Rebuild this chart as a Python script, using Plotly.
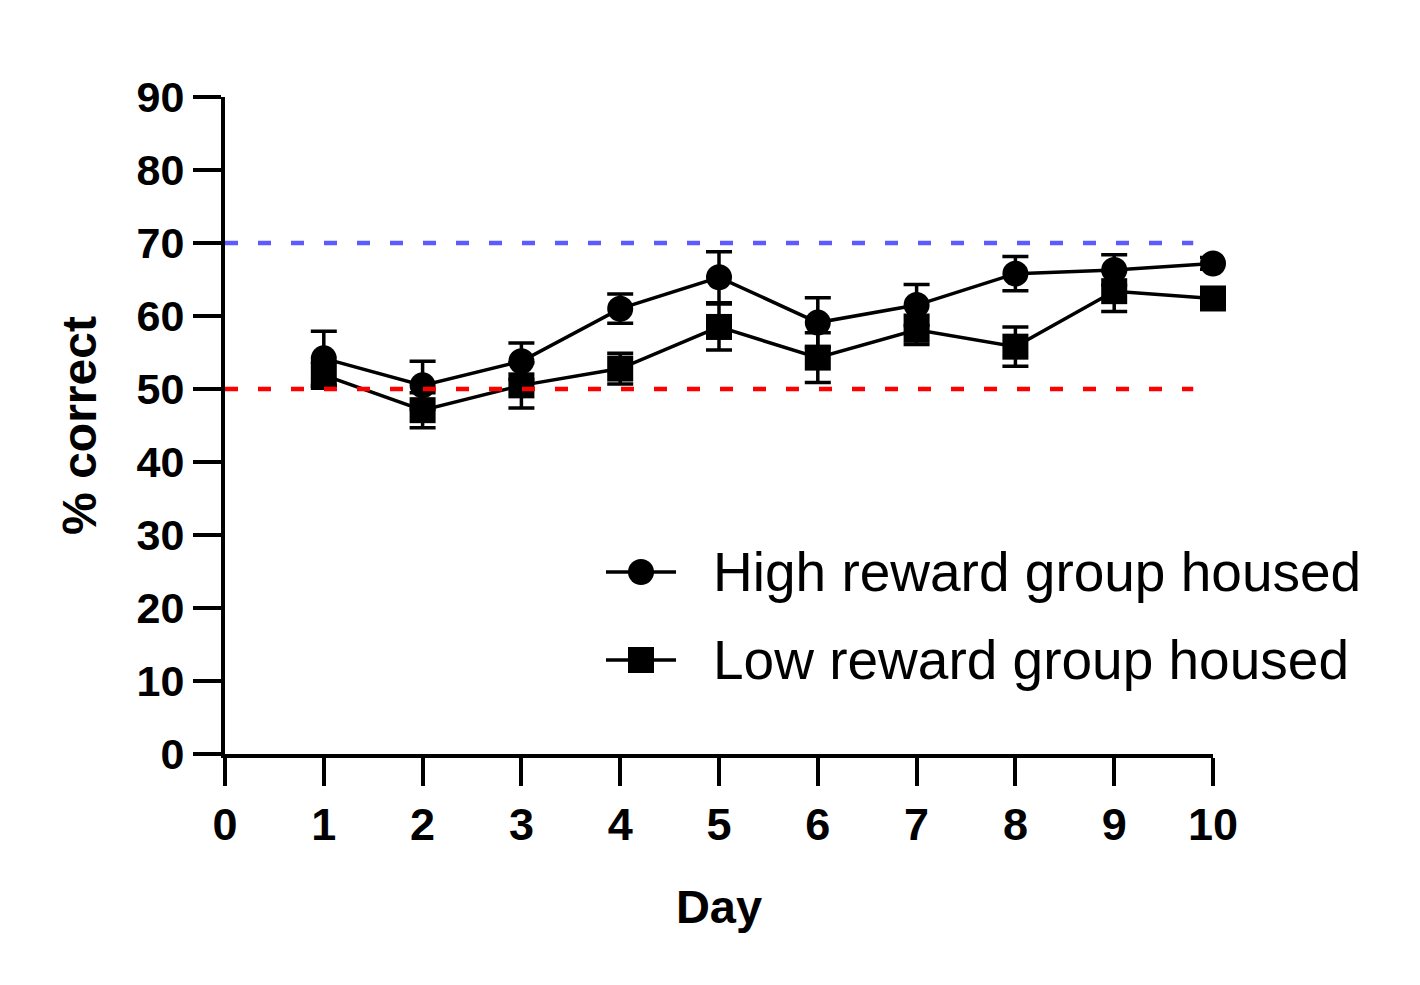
import plotly.graph_objects as go

days = [1, 2, 3, 4, 5, 6, 7, 8, 9, 10]
high_mean = [54.2, 50.5, 53.8, 61.0, 65.3, 59.1, 61.5, 65.8, 66.3, 67.2]
high_sem = [3.7, 3.3, 2.5, 2.0, 3.5, 3.4, 2.8, 2.35, 2.1, 0.8]
low_mean = [51.9, 47.1, 50.5, 52.8, 58.5, 54.3, 58.1, 55.8, 63.4, 62.4]
low_sem = [1.8, 2.4, 3.1, 2.1, 3.15, 3.4, 2.0, 2.7, 2.8, 1.0]
series_names = ["High reward group housed", "Low reward group housed"]
chance_level = 50
criterion_level = 70
x_ticks = list(range(0, 11))
y_ticks = list(range(0, 91, 10))

FONT = "Arial, Liberation Sans, Helvetica, sans-serif"

W, H = 1420, 985
L, R, T, B = 225, 207, 97, 231
pw, ph = W - L - R, H - T - B


def px_to_paper(px, py):
    return (px - L) / pw, (H - B - py) / ph


fig = go.Figure()

for name, mean, sem, sym in [
    (series_names[0], high_mean, high_sem, "circle"),
    (series_names[1], low_mean, low_sem, "square"),
]:
    fig.add_trace(go.Scatter(
        x=days, y=mean, name=name, mode="lines+markers",
        line=dict(color="black", width=3.5),
        marker=dict(symbol=sym, size=26, color="black"),
        error_y=dict(type="data", array=sem, visible=True, color="black",
                     thickness=3.5, width=13),
        cliponaxis=False, showlegend=False,
    ))

# reference lines
fig.add_shape(type="line", xref="x", yref="y", x0=0, x1=9.8,
              y0=criterion_level, y1=criterion_level,
              line=dict(color="#5B5BFF", width=4.5, dash="13px,20px"), layer="above")
fig.add_shape(type="line", xref="x", yref="y", x0=0, x1=9.8,
              y0=chance_level, y1=chance_level,
              line=dict(color="#FF0000", width=4.5, dash="13px,20px"), layer="above")

# custom legend
rows = [572, 660]
for name, sym, py in zip(series_names, ["circle", "rect"], rows):
    x0, y0 = px_to_paper(606, py)
    x1, _ = px_to_paper(676, py)
    xc, _ = px_to_paper(641, py)
    fig.add_shape(type="line", xref="paper", yref="paper", x0=x0, x1=x1, y0=y0, y1=y0,
                  line=dict(color="black", width=3.5))
    r = 13
    fig.add_shape(type=sym, xref="paper", yref="paper",
                  xsizemode="pixel", ysizemode="pixel",
                  xanchor=xc, yanchor=y0, x0=-r, x1=r, y0=-r, y1=r,
                  fillcolor="black", line=dict(color="black", width=0))
    tx, _ = px_to_paper(711, py)
    fig.add_annotation(xref="paper", yref="paper", x=tx, y=y0, text=name,
                       showarrow=False, xanchor="left", yanchor="middle",
                       font=dict(family=FONT, size=55, color="black"))

fig.update_layout(
    width=W, height=H,
    margin=dict(l=L, r=R, t=T, b=B),
    plot_bgcolor="white", paper_bgcolor="white",
    font=dict(family=FONT, color="black"),
    showlegend=False,
)
fig.update_xaxes(
    range=[0, 10], tickvals=x_ticks, ticktext=[str(v) for v in x_ticks],
    showline=True, linewidth=4, linecolor="black", showgrid=False, zeroline=False,
    ticks="outside", ticklen=28, tickwidth=3.5, tickcolor="black",
    tickfont=dict(family=FONT, size=45, color="black", weight="bold"),
    title=dict(text="Day", font=dict(family=FONT, size=47, color="black", weight="bold"),
               standoff=42),
)
fig.update_yaxes(
    range=[0, 90], tickvals=y_ticks, ticktext=[str(v) for v in y_ticks],
    showline=True, linewidth=4, linecolor="black", showgrid=False, zeroline=False,
    ticks="outside", ticklen=28, tickwidth=3.5, tickcolor="black",
    tickfont=dict(family=FONT, size=43, color="black", weight="bold"),
    title=dict(text="% correct", font=dict(family=FONT, size=48, color="black", weight="bold"),
               standoff=26),
)

fig.write_html("out.html")
